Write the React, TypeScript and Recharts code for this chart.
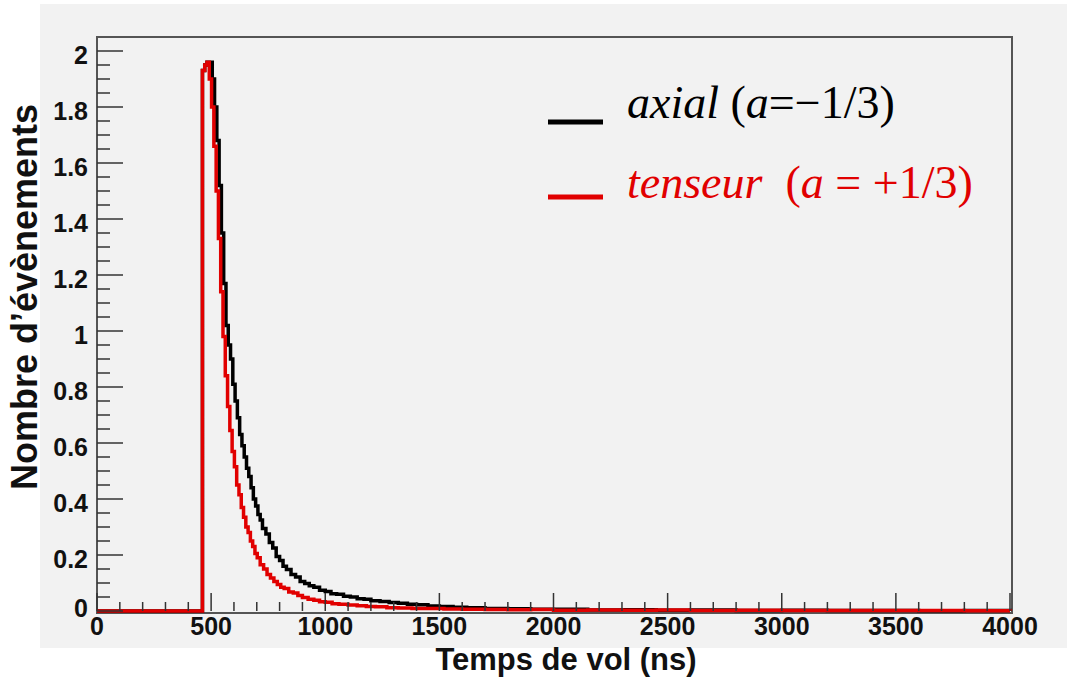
import { LineChart, Line, XAxis, YAxis } from "recharts";

// Time of flight (ns) — bin starts, step histograms
const axialT = [0, 462, 472, 482, 495, 505, 515, 525, 535, 545, 555, 565, 575, 585, 595, 605, 615, 625, 635, 645, 655, 665, 675, 685, 695, 705, 715, 725, 740, 755, 770, 785, 800, 815, 830, 850, 870, 890, 910, 930, 950, 975, 1000, 1025, 1050, 1080, 1110, 1140, 1170, 1200, 1240, 1280, 1320, 1360, 1400, 1450, 1500, 1560, 1620, 1700, 1800, 1900, 2000, 2150, 2300, 2450, 2600, 2800, 3000, 3200, 3400, 3600, 3800, 4000];
const axialN = [0, 1.93, 1.95, 1.96, 1.96, 1.9, 1.8, 1.68, 1.52, 1.35, 1.17, 1.02, 0.95, 0.9, 0.81, 0.75, 0.69, 0.63, 0.59, 0.55, 0.51, 0.48, 0.44, 0.4, 0.375, 0.345, 0.325, 0.295, 0.275, 0.245, 0.225, 0.195, 0.18, 0.16, 0.148, 0.13, 0.121, 0.105, 0.098, 0.09, 0.085, 0.074, 0.07, 0.062, 0.06, 0.053, 0.05, 0.044, 0.042, 0.037, 0.034, 0.03, 0.028, 0.024, 0.022, 0.018, 0.016, 0.013, 0.012, 0.009, 0.008, 0.006, 0.006, 0.004, 0.0045, 0.003, 0.0032, 0.002, 0.0025, 0.0015, 0.002, 0.001, 0.0015, 0.001];

const tenseurT = [0, 462, 472, 482, 492, 502, 512, 522, 532, 542, 552, 562, 572, 582, 592, 602, 612, 622, 632, 642, 652, 662, 672, 682, 692, 702, 715, 730, 745, 760, 775, 790, 805, 820, 840, 860, 880, 900, 925, 950, 975, 1000, 1030, 1060, 1100, 1140, 1180, 1220, 1270, 1320, 1380, 1450, 1520, 1600, 1700, 1800, 1900, 2000, 2150, 2300, 2450, 2600, 2800, 3000, 3200, 3400, 3600, 3800, 4000];
const tenseurN = [0, 1.93, 1.95, 1.96, 1.9, 1.8, 1.66, 1.5, 1.33, 1.14, 0.98, 0.84, 0.73, 0.645, 0.57, 0.515, 0.45, 0.415, 0.37, 0.335, 0.3, 0.28, 0.25, 0.23, 0.205, 0.19, 0.165, 0.15, 0.13, 0.118, 0.105, 0.095, 0.085, 0.08, 0.068, 0.064, 0.055, 0.048, 0.042, 0.038, 0.033, 0.031, 0.026, 0.024, 0.021, 0.019, 0.016, 0.015, 0.012, 0.011, 0.009, 0.0085, 0.007, 0.0065, 0.005, 0.0045, 0.005, 0.003, 0.0038, 0.0025, 0.0032, 0.002, 0.0028, 0.0015, 0.0022, 0.0015, 0.0022, 0.0012, 0.001];

const xMajor = [0, 500, 1000, 1500, 2000, 2500, 3000, 3500, 4000];
const yMajor = [0, 0.2, 0.4, 0.6, 0.8, 1, 1.2, 1.4, 1.6, 1.8, 2];

// minor ticks: 5 subdivisions on x, 4 on y
const xTicks = Array.from({ length: 41 }, (_, i) => i * 100);
const yTicks = Array.from({ length: 41 }, (_, i) => +(i * 0.05).toFixed(2));

const axialData = axialT.map((t, i) => ({ t, n: axialN[i] }));
const tenseurData = tenseurT.map((t, i) => ({ t, n: tenseurN[i] }));

const W = 1067;
const H = 681;
const LEFT = 97;
const RIGHT = 1010;
const TOP = 37;
const BOTTOM = 611;
const FONT = "'Liberation Sans', Arial, sans-serif";
const SERIF = "'Liberation Serif', 'Times New Roman', serif";
const RED = "#e10000";

const XTick = (props: any) => {
  const { x, payload } = props;
  const v = payload.value as number;
  const major = xMajor.includes(v);
  return (
    <g>
      <line x1={x} x2={x} y1={BOTTOM} y2={BOTTOM - (major ? 18 : 9)} stroke="#333" strokeWidth={1.5} />
      {major && (
        <text x={x} y={BOTTOM + 24} textAnchor="middle" fontFamily={FONT} fontWeight="bold" fontSize={25} fill="#111">
          {v}
        </text>
      )}
    </g>
  );
};

const YTick = (props: any) => {
  const { y, payload } = props;
  const v = payload.value as number;
  const major = yMajor.some((m) => Math.abs(m - v) < 1e-6);
  return (
    <g>
      <line x1={LEFT} x2={LEFT + (major ? 26 : 13)} y1={y} y2={y} stroke="#333" strokeWidth={1.5} />
      {major && (
        <text x={LEFT - 9} y={v === 0 ? y + 6 : y + 13} textAnchor="end" fontFamily={FONT} fontWeight="bold" fontSize={25} fill="#111">
          {String(v)}
        </text>
      )}
    </g>
  );
};

export default function App() {
  return (
    <div style={{ position: "absolute", left: 0, top: 0, width: W, height: H, background: "#fff" }}>
      <style>{"body{margin:0}"}</style>
      <div style={{ position: "absolute", left: 40, top: 4, width: W - 40, height: 644, background: "#f2f2f2" }} />
      <div
        style={{
          position: "absolute",
          left: LEFT - 1,
          top: TOP - 1,
          width: RIGHT - LEFT,
          height: BOTTOM - TOP,
          border: "2px solid #555",
        }}
      />
      <div style={{ position: "absolute", left: 0, top: 0 }}>
        <LineChart width={W} height={H} margin={{ top: TOP, right: W - RIGHT, bottom: 0, left: 0 }}>
          <XAxis
            type="number"
            dataKey="t"
            domain={[0, 4000]}
            ticks={xTicks}
            interval={0}
            height={H - BOTTOM}
            axisLine={false}
            tickLine={false}
            tick={<XTick />}
            allowDuplicatedCategory={false}
          />
          <YAxis
            type="number"
            dataKey="n"
            domain={[0, 2.05]}
            ticks={yTicks}
            interval={0}
            width={LEFT}
            axisLine={false}
            tickLine={false}
            tick={<YTick />}
          />
          <Line
            data={axialData}
            dataKey="n"
            type="stepAfter"
            stroke="#000"
            strokeWidth={3.5}
            dot={false}
            isAnimationActive={false}
          />
          <Line
            data={tenseurData}
            dataKey="n"
            type="stepAfter"
            stroke={RED}
            strokeWidth={3.5}
            dot={false}
            isAnimationActive={false}
          />
        </LineChart>
      </div>
      <svg width={W} height={H} style={{ position: "absolute", left: 0, top: 0, pointerEvents: "none" }}>
        <line x1={548} x2={603} y1={122} y2={122} stroke="#000" strokeWidth={5} />
        <text x={627} y={118} fontFamily={SERIF} fontSize={46} fill="#000">
          <tspan fontStyle="italic">axial</tspan> (<tspan fontStyle="italic">a</tspan>=−1/3)
        </text>
        <line x1={548} x2={603} y1={197} y2={197} stroke={RED} strokeWidth={5} />
        <text x={627} y={198} fontFamily={SERIF} fontSize={46} fill={RED} xmlSpace="preserve">
          <tspan fontStyle="italic">tenseur</tspan>{"  ("}<tspan fontStyle="italic">a</tspan>{" = +1/3)"}
        </text>
        <text x={566} y={670} textAnchor="middle" fontFamily={FONT} fontWeight="bold" fontSize={31} fill="#111">
          Temps de vol (ns)
        </text>
        <text
          x={37}
          y={297}
          transform="rotate(-90 37 297)"
          textAnchor="middle"
          fontFamily={FONT}
          fontWeight="bold"
          fontSize={36}
          fill="#111"
        >
          Nombre d’évènements
        </text>
      </svg>
    </div>
  );
}
